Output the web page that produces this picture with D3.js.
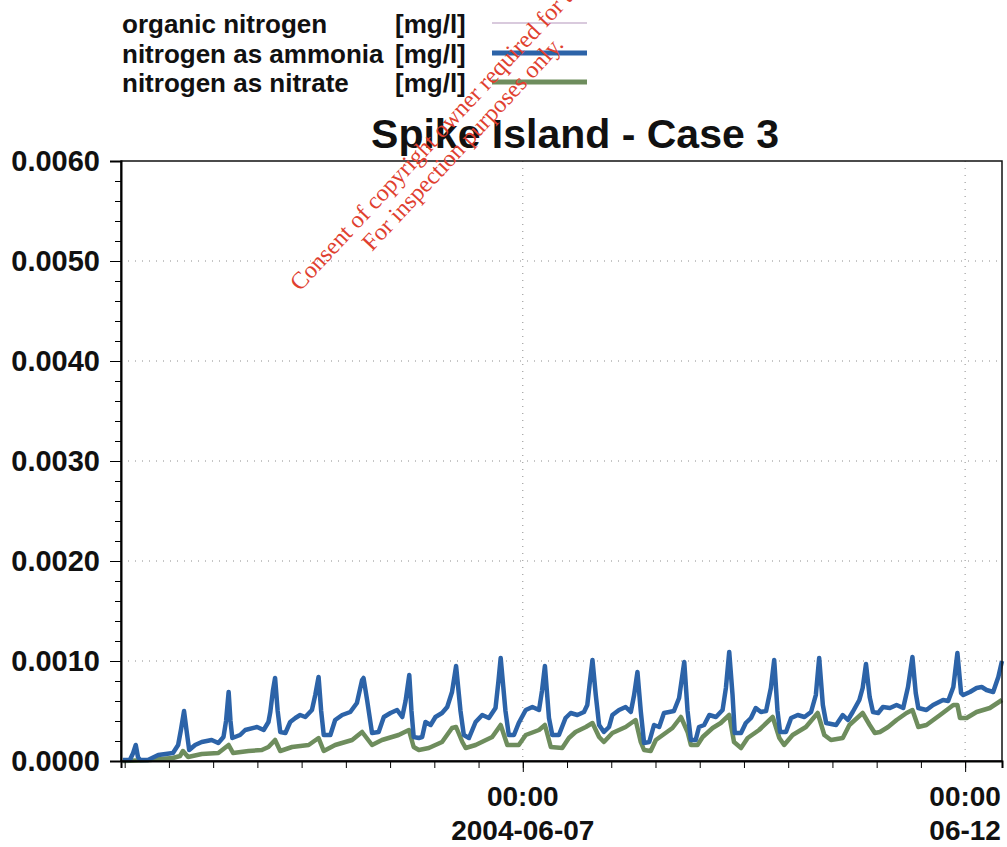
<!DOCTYPE html>
<html>
<head>
<meta charset="utf-8">
<script src="https://cdn.jsdelivr.net/npm/d3@7"></script>
<style>
  html, body { margin: 0; padding: 0; background: #fff; }
  svg { display: block; font-family: "Liberation Sans", Arial, sans-serif; }
</style>
</head>
<body>
<div id="chart"></div>
<script>
// hours after 2004-06-02 11:00 and concentration in mg/l
const ammonia = [
  [0.5, 0.00001], [2.4, 0.00001], [3.3, 0.00008], [4.0, 0.00016], [4.6, 0.00004], [5.2, 0.00001],
  [7.3, 0.00001], [10.1, 0.00006], [14.1, 0.00008], [15.5, 0.00016], [16.3, 0.00032], [17.1, 0.0005],
  [17.8, 0.0003], [18.5, 0.00011], [20.1, 0.00016], [21.9, 0.00019], [24.6, 0.00021], [26.4, 0.00018],
  [27.8, 0.00024], [28.5, 0.0004], [29.2, 0.00069], [29.7, 0.0004], [30.2, 0.00023], [32.3, 0.00026],
  [33.7, 0.00031], [36.9, 0.00034], [38.7, 0.00031], [40.0, 0.00039], [40.5, 0.00049], [41.2, 0.0007],
  [41.8, 0.00083], [42.5, 0.0005], [43.2, 0.00029], [44.6, 0.00028], [45.9, 0.00039], [47.3, 0.00043],
  [48.6, 0.00046], [50.0, 0.00044], [51.8, 0.00051], [52.7, 0.00066], [53.6, 0.00084], [54.3, 0.0005],
  [55.0, 0.00026], [56.8, 0.00026], [58.1, 0.00041], [60.0, 0.00046], [62.2, 0.00049], [64.0, 0.00058],
  [65.4, 0.00081], [65.8, 0.00083], [66.8, 0.0006], [68.1, 0.00028], [69.9, 0.00029], [71.3, 0.00044],
  [73.1, 0.00048], [74.9, 0.00051], [76.3, 0.00044], [77.2, 0.0006], [78.2, 0.00086], [78.8, 0.0005],
  [79.4, 0.00024], [80.8, 0.00023], [81.7, 0.00024], [82.6, 0.00039], [84.0, 0.00036], [85.3, 0.00044],
  [87.1, 0.00048], [88.5, 0.00054], [89.8, 0.00069], [90.9, 0.00095], [92.1, 0.0005], [93.0, 0.00026],
  [94.4, 0.00023], [96.2, 0.00039], [98.0, 0.00046], [99.8, 0.00043], [101.6, 0.00053], [102.4, 0.0008],
  [103.0, 0.00103], [104.3, 0.0005], [105.2, 0.00026], [106.6, 0.00026], [107.9, 0.00038], [109.8, 0.00051],
  [111.6, 0.00054], [113.4, 0.00051], [114.2, 0.0007], [115.0, 0.00095], [116.1, 0.00043], [117.0, 0.00026],
  [118.8, 0.00026], [120.6, 0.00043], [122.0, 0.00048], [123.8, 0.00046], [125.6, 0.00049], [126.5, 0.00056],
  [127.1, 0.00076], [127.9, 0.00101], [128.8, 0.00066], [129.7, 0.00036], [131.0, 0.00029], [132.4, 0.00034],
  [133.3, 0.00046], [135.1, 0.00051], [136.9, 0.00054], [138.3, 0.00049], [139.2, 0.00066], [140.1, 0.00089],
  [141.0, 0.0005], [141.9, 0.00018], [143.3, 0.00019], [144.6, 0.00036], [146.0, 0.00034], [147.3, 0.00048],
  [148.7, 0.00049], [150.0, 0.0005], [151.4, 0.00063], [152.8, 0.00099], [153.7, 0.0005], [154.6, 0.00021],
  [155.9, 0.00021], [156.8, 0.00034], [158.2, 0.00036], [159.6, 0.00046], [161.4, 0.00044], [163.2, 0.00051],
  [164.1, 0.00073], [165.0, 0.00109], [165.9, 0.00066], [166.5, 0.00028], [168.2, 0.00028], [169.5, 0.00038],
  [170.9, 0.00043], [172.2, 0.00053], [173.6, 0.00049], [175.0, 0.0005], [176.3, 0.00073], [177.2, 0.00101],
  [178.1, 0.0005], [178.8, 0.00029], [180.4, 0.00029], [181.8, 0.00043], [183.6, 0.00046], [185.4, 0.00044],
  [187.2, 0.00049], [188.5, 0.00066], [189.4, 0.00103], [190.4, 0.00056], [191.3, 0.00038], [194.0, 0.00036],
  [195.8, 0.00046], [197.2, 0.00041], [198.5, 0.00049], [200.3, 0.00061], [201.2, 0.00073], [202.1, 0.00097],
  [203.1, 0.00064], [204.0, 0.00049], [205.4, 0.00048], [206.7, 0.00054], [208.6, 0.00053], [210.4, 0.00056],
  [212.2, 0.00053], [213.5, 0.00074], [214.7, 0.00104], [215.6, 0.00068], [216.3, 0.00053], [218.5, 0.00051],
  [220.3, 0.00056], [223.0, 0.00061], [224.4, 0.0006], [225.8, 0.00074], [226.9, 0.00108], [227.9, 0.00068],
  [228.5, 0.00066], [230.3, 0.00069], [232.1, 0.00073], [233.5, 0.00074], [234.8, 0.00071], [236.6, 0.00069],
  [238.0, 0.00084], [239.0, 0.001]
];

const nitrate = [
  [0.5, 0], [7.9, 0.00001], [10.6, 0.00002], [14.1, 0.00003], [16.0, 0.00005], [16.8, 0.0001],
  [18.2, 0.00004], [21.9, 0.00007], [26.4, 0.00008], [29.2, 0.00016], [30.4, 0.00008], [34.6, 0.0001],
  [38.2, 0.00011], [40.0, 0.00014], [41.8, 0.00021], [43.2, 0.0001], [46.4, 0.00014], [50.9, 0.00016],
  [53.6, 0.00023], [55.0, 0.0001], [58.1, 0.00016], [62.7, 0.00021], [65.4, 0.00029], [68.1, 0.00016],
  [70.8, 0.00021], [75.3, 0.00026], [78.1, 0.00031], [79.4, 0.00014], [80.8, 0.00011], [83.5, 0.00013],
  [87.1, 0.00019], [89.8, 0.00033], [90.9, 0.00034], [92.6, 0.00019], [93.5, 0.00013], [96.2, 0.00016],
  [100.7, 0.00024], [103.0, 0.00036], [104.8, 0.00016], [107.9, 0.00016], [109.8, 0.00026], [113.4, 0.00031],
  [115.0, 0.00036], [116.6, 0.00014], [119.7, 0.00013], [121.5, 0.00023], [123.3, 0.00029], [126.1, 0.00034],
  [127.9, 0.00038], [129.7, 0.00024], [131.0, 0.00019], [133.3, 0.00028], [136.9, 0.00034], [139.6, 0.00041],
  [141.0, 0.00019], [141.9, 0.00011], [143.7, 0.0001], [145.1, 0.00021], [149.6, 0.00033], [151.9, 0.00044],
  [153.7, 0.00029], [154.6, 0.00016], [156.4, 0.00016], [157.8, 0.00024], [160.5, 0.00033], [162.7, 0.00038],
  [165.0, 0.00046], [166.3, 0.00019], [168.2, 0.00013], [170.0, 0.00023], [173.1, 0.00031], [176.8, 0.00044],
  [178.6, 0.00023], [179.9, 0.00016], [182.2, 0.00026], [185.8, 0.00034], [189.0, 0.00048], [190.8, 0.00026],
  [192.6, 0.00021], [195.8, 0.00023], [197.6, 0.00036], [201.2, 0.00048], [203.1, 0.00036], [204.5, 0.00028],
  [205.9, 0.00029], [208.1, 0.00034], [210.4, 0.00041], [213.1, 0.00048], [214.7, 0.00051], [216.3, 0.00034],
  [218.5, 0.00036], [222.2, 0.00046], [225.8, 0.00056], [226.9, 0.00056], [227.6, 0.00043], [229.4, 0.00043],
  [232.1, 0.00049], [235.7, 0.00053], [239.0, 0.00061]
];

const organic = [[0.5, 0], [239.0, 0]];

const legendNames = ["organic nitrogen", "nitrogen as ammonia", "nitrogen as nitrate"];
const legendUnit = "[mg/l]";
const legendColors = ["#cdb9d2", "#2c63a8", "#6e8d5d"];
const legendWidths = [1.5, 5, 5];
const yTicks = [0, 0.001, 0.002, 0.003, 0.004, 0.005, 0.006];
const xDateLabels = ["2004-06-07", "06-12"];
const titleText = "Spike Island - Case 3";
const watermark = ["For inspection purposes only.", "Consent of copyright owner required for any other use."];

const startTime = new Date(2004, 5, 2, 11, 0);
const endTime = new Date(2004, 5, 12, 10, 0);
const toDate = h => new Date(startTime.getTime() + h * 3600000);

const W = 1007, H = 847;
const margin = { top: 161, right: 5, bottom: 86, left: 121 };
const width = W - margin.left - margin.right;
const height = H - margin.top - margin.bottom;

const svg = d3.select("#chart").append("svg")
  .attr("width", W)
  .attr("height", H);

const g = svg.append("g")
  .attr("transform", "translate(" + margin.left + "," + margin.top + ")");

const x = d3.scaleTime().domain([startTime, endTime]).range([0, width]);
const y = d3.scaleLinear().domain([0, 0.006]).range([height, 0]);

// dotted grid
g.append("g").selectAll("line")
  .data(yTicks.slice(1, -1))
  .join("line")
  .attr("x1", 0).attr("x2", width)
  .attr("y1", d => y(d)).attr("y2", d => y(d))
  .attr("stroke", "#8c8c8c").attr("stroke-width", 1)
  .attr("stroke-dasharray", "1,6");

const dayTicks = [new Date(2004, 5, 7), new Date(2004, 5, 12)];
g.append("g").selectAll("line")
  .data(dayTicks)
  .join("line")
  .attr("x1", d => x(d)).attr("x2", d => x(d))
  .attr("y1", 0).attr("y2", height)
  .attr("stroke", "#8c8c8c").attr("stroke-width", 1)
  .attr("stroke-dasharray", "1,6");

// series
const line = d3.line()
  .x(d => x(toDate(d[0])))
  .y(d => y(d[1]));

g.append("path").datum(organic)
  .attr("d", line).attr("fill", "none")
  .attr("stroke", legendColors[0]).attr("stroke-width", 1.5);

g.append("path").datum(nitrate)
  .attr("d", line).attr("fill", "none")
  .attr("stroke", legendColors[2]).attr("stroke-width", 4.5)
  .attr("stroke-linejoin", "round");

g.append("path").datum(ammonia)
  .attr("d", line).attr("fill", "none")
  .attr("stroke", legendColors[1]).attr("stroke-width", 4.5)
  .attr("stroke-linejoin", "round");

// frame
g.append("rect")
  .attr("width", width).attr("height", height)
  .attr("fill", "none").attr("stroke", "#111").attr("stroke-width", 1.5);

// y axis
const yAxis = g.append("g")
  .call(d3.axisLeft(y).tickValues(yTicks).tickFormat(d3.format(".4f")).tickSize(11).tickPadding(10));
yAxis.select(".domain").attr("stroke-width", 2);
yAxis.selectAll("text")
  .attr("font-size", 29).attr("font-weight", "bold").attr("fill", "#111");
g.append("g")
  .call(d3.axisLeft(y).ticks(30).tickFormat("").tickSize(6))
  .call(s => s.select(".domain").remove());

// x axis
const xAxis = g.append("g")
  .attr("transform", "translate(0," + height + ")")
  .call(d3.axisBottom(x).ticks(d3.timeHour.every(12)).tickFormat("").tickSize(7));
xAxis.select(".domain").attr("stroke-width", 2);
g.append("g")
  .attr("transform", "translate(0," + height + ")")
  .call(d3.axisBottom(x).tickValues(dayTicks).tickFormat("").tickSize(11))
  .call(s => s.select(".domain").remove());

const xLab = g.append("g").attr("font-weight", "bold").attr("font-size", 28)
  .attr("text-anchor", "middle").attr("fill", "#111");
dayTicks.forEach((d, i) => {
  xLab.append("text").attr("x", x(d)).attr("y", height + 45).text(d3.timeFormat("%H:%M")(d));
  xLab.append("text").attr("x", x(d)).attr("y", height + 79).text(xDateLabels[i]);
});

// title
svg.append("text")
  .attr("x", 575).attr("y", 148)
  .attr("text-anchor", "middle")
  .attr("font-size", 41).attr("font-weight", "bold")
  .attr("fill", "#111")
  .text(titleText);

// legend
const legend = svg.append("g").attr("font-size", 26).attr("font-weight", "bold").attr("fill", "#111");
const rowY = [23, 53, 82];
legendNames.forEach((name, i) => {
  legend.append("text")
    .attr("x", 122).attr("y", rowY[i] + 10)
    .text(name);
  legend.append("text")
    .attr("x", 395).attr("y", rowY[i] + 10)
    .text(legendUnit);
  legend.append("line")
    .attr("x1", 492).attr("x2", 587)
    .attr("y1", rowY[i]).attr("y2", rowY[i])
    .attr("stroke", legendColors[i]).attr("stroke-width", legendWidths[i]);
});

// watermark
const wm = svg.append("g")
  .attr("font-family", "'Liberation Serif', 'Times New Roman', serif")
  .attr("font-size", 24).attr("fill", "#e0402f");
wm.append("text").attr("transform", "translate(372,252) rotate(-47)").text(watermark[0]);
wm.append("text").attr("transform", "translate(300,292) rotate(-47)").text(watermark[1]);
</script>
</body>
</html>
